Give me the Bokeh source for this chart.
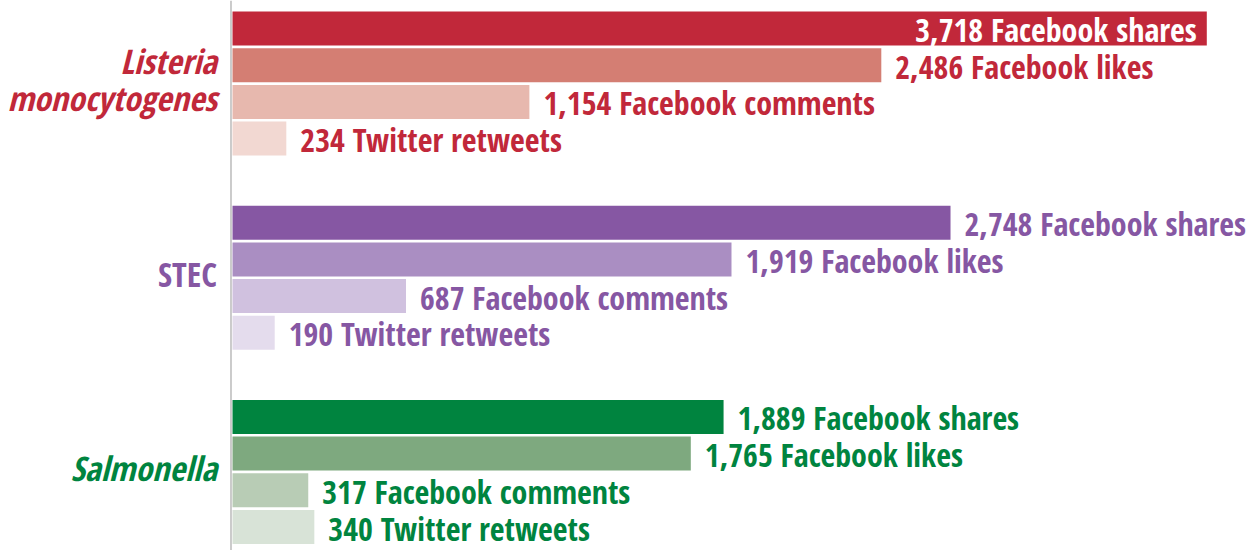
from bokeh.plotting import figure
from bokeh.models import ColumnDataSource, Range1d, Span
from bokeh.core.properties import value
from bokeh.embed import file_html
from bokeh.resources import INLINE

# ---- data ----
pathogens = ["Listeria\nmonocytogenes", "STEC", "Salmonella"]
pathogen_italic = [True, False, True]
metrics = ["Facebook shares", "Facebook likes", "Facebook comments", "Twitter retweets"]
listeria = [3718, 2486, 1154, 234]
stec = [2748, 1919, 687, 190]
salmonella = [1889, 1765, 317, 340]
series = [listeria, stec, salmonella]

# ---- styles ----
main_colors = ["#C1283A", "#8657A3", "#00843F"]
bar_colors = [
    ["#C1283A", "#D47E73", "#E7B8AE", "#F2D8D2"],
    ["#8657A3", "#AA8EC2", "#D0C1DF", "#E4DCED"],
    ["#00843F", "#7EA97F", "#B8CCB5", "#D8E3D7"],
]
FONT = value("Open Sans Condensed")

W, H = 1255, 550
scale = 0.2642          # px per unit
zero_px = 224
x0 = -zero_px / scale
x1 = (W - zero_px) / scale
axis_v = 24.6
base_v = 30.3

p = figure(width=W, height=H, output_backend="svg", toolbar_location=None,
           x_range=Range1d(x0, x1), y_range=Range1d(H, 0),
           min_border=0, min_border_left=0, min_border_right=0,
           min_border_top=0, min_border_bottom=0)
p.axis.visible = False
p.grid.visible = False
p.outline_line_color = None
p.background_fill_color = "white"
p.border_fill_color = "white"

group_top = 28.0
group_pitch = 194.2
bar_pitch = 36.7
bar_h = 34

ys, lefts, rights, cols = [], [], [], []
lx, ly, ltxt, lcol, loff, lalign = [], [], [], [], [], []
allmax = max(max(s) for s in series)
for g, vals in enumerate(series):
    for i, v in enumerate(vals):
        y = group_top + g * group_pitch + i * bar_pitch
        ys.append(y); lefts.append(base_v); rights.append(v); cols.append(bar_colors[g][i])
        label = f"{v:,} {metrics[i]}"
        lx.append(v); ly.append(y); ltxt.append(label)
        if v == allmax:
            lcol.append("white"); loff.append(-10); lalign.append("right")
        else:
            lcol.append(main_colors[g]); loff.append(14); lalign.append("left")

p.hbar(y=ys, left=lefts, right=rights, height=bar_h, color=cols, line_color=None)

p.add_layout(Span(location=axis_v, dimension="height", line_color="#BBBBBB", line_width=1.5))

src = ColumnDataSource(dict(x=lx, y=ly, text=ltxt, color=lcol, off=loff, align=lalign))
p.text(x="x", y="y", text="text", text_color="color", x_offset="off", text_align="align",
       text_baseline="middle", text_font=FONT, text_font_style="bold",
       text_font_size="32px", source=src, y_offset=1)

# category labels
for g, name in enumerate(pathogens):
    cy = group_top + g * group_pitch + 1.5 * bar_pitch
    p.text(x=[axis_v], y=[cy], text=[name], text_color=main_colors[g],
           x_offset=-14, y_offset=-4, text_align="right", text_baseline="middle",
           text_font=FONT, text_font_size="34px",
           text_font_style="bold italic" if pathogen_italic[g] else "bold",
           text_line_height=0.82)

open("out.html", "w").write(file_html(p, INLINE))
